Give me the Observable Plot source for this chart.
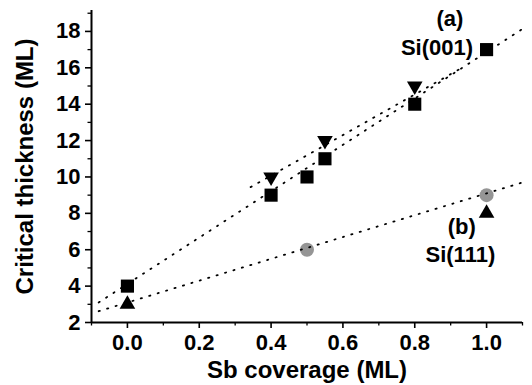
<!DOCTYPE html>
<html>
<head>
<meta charset="utf-8">
<script src="https://cdn.jsdelivr.net/npm/d3@7"></script>
<script src="https://cdn.jsdelivr.net/npm/@observablehq/plot@0.6"></script>
<style>
  html, body { margin: 0; padding: 0; background: #fff; }
  #chart svg { display: block; }
</style>
</head>
<body>
<div id="chart"></div>
<script>
// ---- data ----
const squaresX = [0, 0.4, 0.5, 0.55, 0.8, 1.0];
const squaresY = [4, 9, 10, 11, 14, 17];
const downTriX = [0.4, 0.55, 0.8];
const downTriY = [10, 12, 15];
const upTriX = [0, 1.0];
const upTriY = [3, 8];
const circleX = [0.5, 1.0];
const circleY = [6, 9];

// dotted fit lines (end points)
const fitAX = [-0.08, 1.105];
const fitAY = [3.1, 18.2];
const fitBX = [0.343, 0.934];
const fitBY = [9.44, 16.03];
const fitCX = [-0.08, 1.107];
const fitCY = [2.62, 9.74];

// annotations
const labelText = ["(a)", "Si(001)", "(b)", "Si(111)"];
const labelX = [0.898, 0.862, 0.931, 0.927];
const labelY = [18.7, 17.1, 7.23, 5.69];

// ticks
const xTicks = [0, 0.2, 0.4, 0.6, 0.8, 1.0];
const xMinor = [-0.1, 0.1, 0.3, 0.5, 0.7, 0.9, 1.1];
const yTicks = [2, 4, 6, 8, 10, 12, 14, 16, 18];
const yMinor = [3, 5, 7, 9, 11, 13, 15, 17, 19];

const xTitle = "Sb coverage (ML)";
const yTitle = "Critical thickness (ML)";

// ---- tables ----
const zip = (xs, ys) => xs.map((x, i) => ({x, y: ys[i]}));
const squares = zip(squaresX, squaresY);
const downTri = zip(downTriX, downTriY);
const upTri = zip(upTriX, upTriY);
const circles = zip(circleX, circleY);
const fitA = zip(fitAX, fitAY);
const fitB = zip(fitBX, fitBY);
const fitC = zip(fitCX, fitCY);
const labels = labelText.map((t, i) => ({t, x: labelX[i], y: labelY[i]}));

const font = "'Liberation Sans', Arial, Helvetica, sans-serif";
const dotted = {x: "x", y: "y", stroke: "black", strokeWidth: 1.8, strokeDasharray: "1.2,7.6", strokeLinecap: "round"};

const chart = Plot.plot({
  width: 532,
  height: 385,
  marginLeft: 91,
  marginRight: 10,
  marginTop: 10,
  marginBottom: 63,
  style: {fontFamily: font, background: "white", color: "black"},
  x: {domain: [-0.1, 1.1], label: null},
  y: {domain: [2, 19.15], label: null},
  marks: [
    Plot.axisX(xMinor, {tickSize: 3.5, tickFormat: () => "", label: null, strokeWidth: 1.3}),
    Plot.axisX(xTicks, {tickSize: 6, tickPadding: 6, tickFormat: d3.format(".1f"), fontSize: 22, fontWeight: "bold", label: null, strokeWidth: 1.6}),
    Plot.axisY(yMinor, {tickSize: 3.5, tickFormat: () => "", label: null, strokeWidth: 1.3}),
    Plot.axisY(yTicks, {tickSize: 6, tickPadding: 5, fontSize: 22, fontWeight: "bold", label: null, strokeWidth: 1.6}),
    Plot.ruleX([-0.1], {stroke: "black", strokeWidth: 2}),
    Plot.ruleY([2], {stroke: "black", strokeWidth: 2}),
    Plot.text([xTitle], {frameAnchor: "bottom", lineAnchor: "middle", textAnchor: "middle", dy: 48, fontSize: 24, fontWeight: "bold", fill: "black"}),
    Plot.text([yTitle], {frameAnchor: "left", lineAnchor: "middle", textAnchor: "middle", dx: -66, rotate: -90, fontSize: 24, fontWeight: "bold", fill: "black"}),
    Plot.dot(squares, {x: "x", y: "y", symbol: "square", r: 7.4, fill: "black"}),
    Plot.dot(downTri, {x: "x", y: "y", symbol: "triangle", rotate: 180, r: 5.8, fill: "black"}),
    Plot.dot(upTri, {x: "x", y: "y", symbol: "triangle", r: 5.8, fill: "black"}),
    Plot.dot(circles, {x: "x", y: "y", symbol: "circle", r: 7, fill: "#959595"}),
    Plot.line(fitA, dotted),
    Plot.line(fitB, dotted),
    Plot.line(fitC, dotted),
    Plot.text(labels, {x: "x", y: "y", text: "t", fontSize: 22, fontWeight: "bold", fill: "black", lineAnchor: "middle"})
  ]
});

document.getElementById("chart").appendChild(chart);
</script>
</body>
</html>
